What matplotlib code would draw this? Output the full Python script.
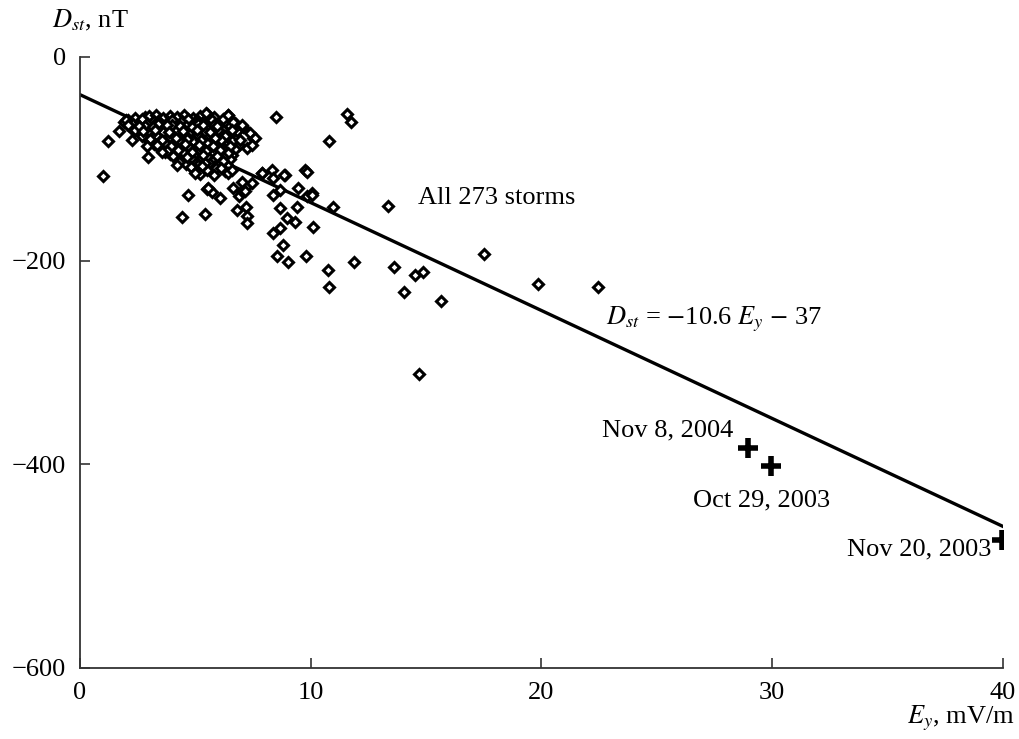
import matplotlib
matplotlib.use("Agg")
import matplotlib.pyplot as plt

plt.rcParams['font.family'] = ['Liberation Serif', 'DejaVu Serif']
plt.rcParams['mathtext.fontset'] = 'stix'

# dense cluster of storms (Ey mV/m, Dst nT)
ev_cluster = [
    2.1, 2.4, 2.8, 3.0, 3.3, 3.6, 3.9, 4.2, 4.5, 4.9, 5.2, 5.5, 5.8, 6.4,
    1.9, 2.3, 2.6, 2.9, 3.2, 3.5, 3.8, 4.1, 4.4, 4.7, 5.0, 5.3, 5.6, 6.0, 6.3, 6.7,
    2.2, 2.5, 2.8, 3.1, 3.4, 3.7, 4.0, 4.3, 4.6, 4.9, 5.2, 5.5, 5.9, 6.2, 6.6,
    2.6, 2.9, 3.2, 3.5, 3.8, 4.1, 4.4, 4.7, 5.0, 5.4, 5.7, 6.1, 6.5,
    2.9, 3.3, 3.6, 3.9, 4.2, 4.5, 4.8, 5.1, 5.4, 5.8, 6.2, 6.8,
    3.2, 3.5, 3.9, 4.2, 4.5, 4.9, 5.2, 5.6, 6.0, 6.4, 6.9,
    3.6, 4.0, 4.4, 4.8, 5.1, 5.5, 5.9, 6.3, 6.7,
    3.9, 4.3, 4.7, 5.0, 5.4, 5.8, 6.2, 6.6,
    4.4, 4.9, 5.3, 5.7, 6.1, 6.5,
    4.6, 5.1, 5.6, 6.0, 6.4,
    5.0, 5.5, 5.9, 6.3,
    2.0, 2.7, 3.4, 4.0, 4.7, 5.1, 5.7, 6.2,
    2.1, 2.8, 3.4, 4.0, 4.6, 5.1, 5.8, 6.5,
    2.4, 3.0, 3.6, 4.2, 4.8, 5.4, 6.0, 6.8,
    2.7, 3.3, 3.9, 4.5, 5.1, 5.6, 6.3,
    3.0, 3.7, 4.3, 4.9, 5.5, 6.1, 6.6,
    3.4, 4.1, 4.7, 5.3, 6.0, 6.5,
    3.7, 4.5, 5.2, 5.7, 6.4,
    4.1, 4.8, 5.5, 6.2,
    4.3, 5.4, 6.2,
    4.8, 5.3, 6.1,
    5.2, 5.8, 6.4,
    2.55, 3.15, 3.75, 4.35, 4.85, 5.35, 5.95,
    2.75, 3.25, 3.85, 4.45, 5.05, 5.65,
    3.05, 3.55, 4.15, 4.65, 5.25, 5.85,
    3.35, 3.95, 4.55, 5.15, 5.75,
    3.75, 4.25, 4.85, 5.45, 6.05,
    4.05, 4.65, 5.35, 5.95,
]
dst_cluster = [
    -62, -60, -59, -58, -57, -60, -58, -59, -57, -60, -58, -56, -59, -57,
    -64, -66, -64, -65, -63, -66, -64, -65, -63, -66, -64, -65, -62, -66, -64, -65,
    -70, -71, -69, -72, -70, -71, -69, -70, -72, -70, -71, -69, -70, -72, -70,
    -75, -76, -74, -75, -77, -75, -74, -76, -75, -74, -76, -75, -77,
    -80, -81, -79, -80, -82, -80, -79, -81, -80, -82, -79, -80,
    -85, -86, -84, -85, -87, -85, -84, -86, -85, -84, -86,
    -90, -91, -89, -90, -92, -90, -89, -91, -90,
    -95, -96, -94, -95, -97, -95, -94, -96,
    -100, -101, -99, -100, -102, -100,
    -105, -106, -104, -105, -107,
    -110, -111, -109, -112,
    -62, -61, -63, -62, -61, -63, -62, -61,
    -67, -68, -66, -67, -68, -66, -67, -68,
    -72, -73, -74, -72, -73, -74, -72, -73,
    -78, -77, -79, -78, -77, -79, -78,
    -83, -84, -82, -83, -84, -82, -83,
    -88, -89, -87, -88, -89, -87,
    -93, -94, -92, -93, -94,
    -98, -99, -97, -98,
    -103, -104, -102,
    -108, -107, -109,
    -115, -116, -114,
    -68, -69, -67, -68, -69, -67, -68,
    -73, -72, -74, -73, -72, -74,
    -81, -82, -80, -81, -82, -80,
    -86, -87, -85, -86, -87,
    -92, -91, -93, -92, -91,
    -97, -98, -96, -97,
]

# scattered storms outside the cluster
ev_scatter = [
    1.21, 1.0, 1.69, 2.24, 2.89, 2.95, 3.55, 4.19, 4.98, 5.46, 6.4, 8.5,
    7.5, 7.22, 6.63, 7.06, 7.0, 7.37, 7.58, 7.44, 6.93, 6.57,
    4.7, 4.4, 5.4, 6.07, 5.5, 5.7, 6.8, 7.2, 7.24, 7.24, 6.9, 7.0, 7.2,
    6.57, 7.87, 8.3, 8.88, 8.36, 9.75, 7.0, 7.44, 7.15, 6.64, 5.56,
    8.67, 8.36, 9.45, 9.82,
    7.89, 8.84, 8.67, 8.97, 9.32, 8.67, 8.36, 8.8, 8.54, 9.01, 9.79,
    9.4, 9.84, 10.05, 10.1, 10.75, 10.96,
    11.56, 11.73, 10.79, 10.04, 13.35, 10.79, 11.87, 13.6, 14.5, 14.85,
    14.04, 15.63, 17.5, 19.83, 22.43, 14.69,
]
dst_scatter = [
    -82.5, -117, -72.7, -81.5, -87, -98, -93, -106, -114, -55, -57, -59,
    -79.6, -89, -63.5, -68.5, -66.8, -74.6, -79.5, -86.4, -81.5, -71.7,
    -135.5, -157, -154, -138, -130, -133, -150, -147, -156, -163, -137, -132, -128,
    -111, -113.6, -111, -116, -119, -111, -122.5, -124, -132, -129, -129,
    -130.6, -135.5, -128.6, -137,
    -114, -116, -148, -158, -162, -168, -173, -185, -195, -201, -195,
    -147, -113, -133.5, -167, -209, -147,
    -56, -63.5, -82.5, -135.5, -146, -225.6, -201, -206, -214, -211,
    -231, -240, -193.5, -223, -226, -311,
]

# the three largest storms
big_ev = [28.96, 29.95, 39.94]
big_dst = [-384, -402, -474]
big_labels = ['Nov 8, 2004', 'Oct 29, 2003', 'Nov 20, 2003']

# regression Dst = slope * Ey + intercept
slope = -10.6
intercept = -37
fit_ev = [0, 40]

fig = plt.figure(figsize=(10.19, 7.39), dpi=100)
ax = fig.add_axes([0.0785, 0.0961, 0.9058, 0.8268])

fit_dst = [slope * e + intercept for e in fit_ev]
ax.plot(fit_ev, fit_dst, color='black', lw=2.4, zorder=2)

ax.plot(ev_cluster + ev_scatter, dst_cluster + dst_scatter, ls='none',
        marker='D', ms=5.4, mfc='white', mec='black', mew=2.2, zorder=3)
ax.plot(big_ev, big_dst, ls='none', marker='+', ms=14, mew=4,
        color='black', zorder=4)

ax.set_xlim(0, 40)
ax.set_ylim(-600, 0)
ax.set_xticks([0, 10, 20, 30, 40])
ax.set_yticks([-600, -400, -200, 0])
ax.tick_params(direction='in', length=7, width=1.2, labelsize=19, pad=10,
               color='#333333')
for s in ['top', 'right']:
    ax.spines[s].set_visible(False)
for s in ['left', 'bottom']:
    ax.spines[s].set_color('#333333')
    ax.spines[s].set_linewidth(1.3)

ax.text(28.3, -378, big_labels[0], fontsize=19, ha='right', va='bottom')
ax.text(29.55, -425, big_labels[1], fontsize=19, ha='center', va='top')
ax.text(39.5, -484, big_labels[2], fontsize=19, ha='right', va='center')
ax.text(14.65, -138, 'All 273 storms', fontsize=19, ha='left', va='center')
ax.text(22.8, -258, r'$D_{st}$ = $-$10.6 $E_y$ $-$ 37', fontsize=19,
        ha='left', va='center')

fig.text(0.051, 0.972, r'$D_{st}$, nT', fontsize=19, ha='left', va='center')
fig.text(0.996, 0.028, r'$E_y$, mV/m', fontsize=19, ha='right', va='center')

fig.savefig('out.png', dpi=100)
